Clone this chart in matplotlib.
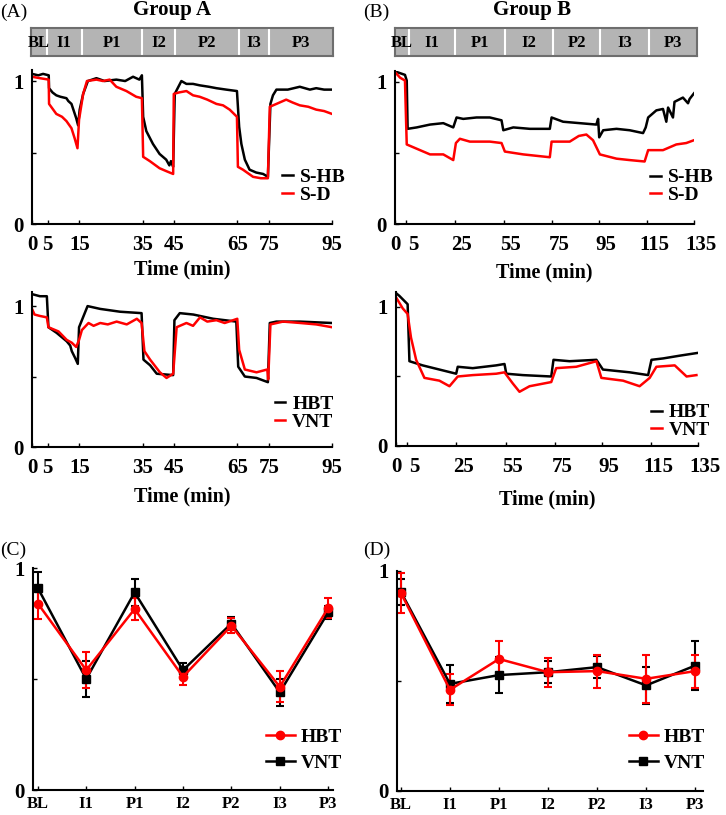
import matplotlib
matplotlib.use("Agg")
import matplotlib.pyplot as plt
from matplotlib.lines import Line2D
from matplotlib.transforms import ScaledTranslation

plt.rcParams["font.family"] = ["Liberation Serif", "DejaVu Serif"]
plt.rcParams["font.weight"] = "bold"

# ---------------- data ----------------
phases = ["BL", "I1", "P1", "I2", "P2", "I3", "P3"]
edges_A = [0, 5, 16, 35, 45.5, 65.5, 75, 95.3]
edges_B = [0, 6.5, 27, 49.5, 71, 92.5, 114.5, 136]

ticks_A = [0, 5, 15, 35, 45, 65, 75, 95]
ticklab_A = ["0", "5", "15", "35", "45", "65", "75", "95"]
ticks_B = [0, 5, 27, 49, 71, 92, 114, 135]
ticklab_B = ["0", "5", "25", "55", "75", "95", "115", "135"]

# Group A, S-HB / S-D
a_shb_t = [0, 2.0, 3.5, 5.3, 5.4, 6.5, 7.7, 9.0, 10.9, 11.5, 12.5, 14.0, 14.6, 15.1, 16.2, 17.7, 20.4,
           23.0, 26.7, 29.5, 32.0, 34.0, 34.8,
           35.2, 36.2, 38.3, 40.4, 42.5, 43.5, 44.0, 44.7, 45.2, 47.3, 48.9, 51.0, 53.1, 56.0, 58.4,
           61.5, 64.9,
           65.6, 66.3, 67.4, 68.9, 71.0, 73.2, 74.7, 75.5, 76.3, 77.4, 81.0, 84.8, 88.0, 90.0, 92.5, 95.0]
a_shb_v = [1.05, 1.04, 1.05, 1.04, 0.95, 0.92, 0.90, 0.89, 0.88, 0.86, 0.84, 0.74, 0.69, 0.80, 0.91,
           1.00, 1.02, 1.00, 1.01, 1.00, 1.03, 1.01, 1.04,
           0.75, 0.65, 0.56, 0.49, 0.45, 0.41, 0.44, 0.40, 0.91, 1.00, 0.98, 0.98, 0.97, 0.96, 0.95,
           0.94, 0.93,
           0.68, 0.56, 0.45, 0.38, 0.36, 0.35, 0.33, 0.84, 0.90, 0.94, 0.94, 0.96, 0.94, 0.95, 0.94, 0.94]
a_sd_t = [0, 2.5, 5.3, 5.4, 7.7, 9.5, 10.9, 12.5, 13.5, 14.4, 14.9, 16.2, 17.4, 20.4, 22.5, 24.6, 26.7,
          29.9, 33.0, 34.8,
          35.2, 37.3, 40.4, 42.5, 44.7, 44.9, 46.5, 48.9, 51.0, 53.1, 55.5, 58.4, 60.5, 62.6, 64.9,
          65.2, 66.8, 70.0, 72.5, 74.7, 75.3, 77.4, 80.5, 82.5, 84.8, 87.5, 90.0, 92.5, 95.0]
a_sd_v = [1.03, 1.02, 1.01, 0.84, 0.77, 0.75, 0.72, 0.67, 0.60, 0.53, 0.73, 0.91, 1.00, 1.01, 1.00,
          1.01, 0.96, 0.93, 0.89, 0.88,
          0.47, 0.44, 0.39, 0.37, 0.35, 0.91, 0.92, 0.93, 0.90, 0.89, 0.87, 0.84, 0.83, 0.80, 0.75,
          0.40, 0.38, 0.33, 0.32, 0.32, 0.82, 0.84, 0.87, 0.85, 0.83, 0.82, 0.80, 0.79, 0.77]

# Group A, HBT / VNT
a_hbt_t = [0, 2.5, 4.7, 5.2, 7.8, 11.0, 12.1, 12.6, 13.7, 14.5, 14.9, 15.8, 17.6, 21.6, 27.9, 34.7,
           35.3, 37.4, 39.5, 44.7, 45.1, 46.8, 51.1, 57.4, 64.7,
           65.3, 67.4, 71.1, 74.7, 75.3, 77.4, 84.7, 95.0]
a_hbt_v = [1.085, 1.07, 1.07, 0.85, 0.81, 0.75, 0.72, 0.68, 0.63, 0.59, 0.85, 0.90, 1.00, 0.98, 0.96, 0.95,
           0.62, 0.58, 0.52, 0.51, 0.90, 0.95, 0.94, 0.91, 0.89,
           0.57, 0.50, 0.49, 0.46, 0.88, 0.89, 0.89, 0.88]
a_vnt_t = [0, 0.8, 2.5, 4.7, 5.2, 8.4, 11.0, 12.6, 14.0, 14.9, 15.8, 17.9, 19.5, 21.6, 24.0, 26.8,
           30.0, 33.2, 34.7,
           35.6, 37.4, 40.5, 42.6, 44.7, 45.8, 48.9, 51.0, 53.2, 55.5, 58.4, 61.0, 63.7, 65.0,
           65.6, 67.4, 71.1, 74.5, 74.8, 75.5, 79.5, 85.0, 90.0, 92.5, 95.0]
a_vnt_v = [0.98, 0.94, 0.93, 0.92, 0.85, 0.82, 0.76, 0.74, 0.71, 0.76, 0.83, 0.88, 0.86, 0.88, 0.87,
           0.89, 0.87, 0.91, 0.88,
           0.68, 0.62, 0.53, 0.49, 0.52, 0.85, 0.88, 0.86, 0.92, 0.89, 0.90, 0.88, 0.90, 0.91,
           0.69, 0.55, 0.53, 0.55, 0.48, 0.87, 0.89, 0.88, 0.87, 0.86, 0.85]

# Group B, S-HB / S-D
b_shb_t = [0, 0.8, 4.5, 5.3, 5.7, 9.8, 15.8, 21.8, 26.3, 27.8, 30.8, 36.8, 42.8, 48.1, 48.9, 53.4,
           60.9, 69.9, 70.7, 75.9, 83.4, 90.9, 91.7, 92.2, 94.0, 100, 106, 112, 113.2, 114.3,
           118, 121, 122.5, 123.3, 125.5, 126.2, 130, 132.3, 133, 135]
b_shb_v = [1.08, 1.07, 1.05, 1.01, 0.67, 0.68, 0.70, 0.71, 0.68, 0.75, 0.74, 0.75, 0.75, 0.73, 0.66, 0.68,
           0.67, 0.67, 0.75, 0.72, 0.71, 0.70, 0.74, 0.61, 0.66, 0.67, 0.66, 0.64, 0.68, 0.75,
           0.80, 0.81, 0.72, 0.82, 0.75, 0.86, 0.89, 0.85, 0.88, 0.92]
b_sd_t = [0, 2.3, 4.5, 5.3, 9.8, 15.8, 21.8, 26.3, 27.5, 29.3, 33.8, 42.8, 48.1, 49.6, 57.9, 69.9,
          70.7, 78.9, 83.0, 86.4, 89.4, 92.5, 100, 106, 112.7, 114.3, 121, 127, 131.5, 135]
b_sd_v = [1.07, 1.03, 1.01, 0.56, 0.53, 0.49, 0.49, 0.45, 0.57, 0.60, 0.58, 0.58, 0.57, 0.51, 0.49, 0.47,
          0.58, 0.58, 0.62, 0.63, 0.59, 0.49, 0.46, 0.45, 0.44, 0.52, 0.52, 0.56, 0.57, 0.59]

# Group B, HBT / VNT
b_hbt_t = [0, 1.5, 5.2, 6.0, 11.9, 19.4, 26.9, 27.6, 34.3, 44.8, 48.5, 49.3, 56.7, 69.4, 70.4,
           77.6, 89.6, 92.5, 104.5, 112.7, 114.2, 119.4, 126.9, 135]
b_hbt_v = [1.10, 1.08, 1.02, 0.61, 0.58, 0.55, 0.52, 0.57, 0.56, 0.58, 0.59, 0.52, 0.51, 0.50, 0.62,
           0.61, 0.62, 0.55, 0.53, 0.51, 0.62, 0.63, 0.65, 0.67]
b_vnt_t = [0, 3.0, 5.2, 6.7, 9.0, 12.7, 19.4, 23.9, 27.6, 34.3, 44.8, 48.5, 52.2, 55.2, 59.7, 69.4,
           71.6, 80.6, 89.6, 91.8, 101.5, 108.9, 113.4, 116.4, 124.6, 129.9, 134.3]
b_vnt_v = [1.07, 0.99, 0.95, 0.78, 0.62, 0.49, 0.47, 0.43, 0.50, 0.51, 0.52, 0.53, 0.45, 0.39, 0.43, 0.46,
           0.56, 0.57, 0.61, 0.49, 0.47, 0.43, 0.49, 0.57, 0.58, 0.50, 0.51]

# phase means +- error
c_hbt = [0.84, 0.54, 0.815, 0.51, 0.74, 0.465, 0.82]
c_hbt_err = [0.07, 0.08, 0.05, 0.035, 0.035, 0.07, 0.045]
c_vnt = [0.91, 0.50, 0.89, 0.54, 0.75, 0.44, 0.80]
c_vnt_err = [0.07, 0.08, 0.06, 0.03, 0.03, 0.06, 0.03]
d_hbt = [0.90, 0.46, 0.60, 0.54, 0.545, 0.51, 0.545]
d_hbt_err = [0.09, 0.07, 0.08, 0.065, 0.075, 0.11, 0.075]
d_vnt = [0.905, 0.487, 0.527, 0.54, 0.563, 0.48, 0.57]
d_vnt_err = [0.06, 0.085, 0.08, 0.05, 0.05, 0.085, 0.11]

# ---------------- figure ----------------
W, H = 726, 815
fig = plt.figure(figsize=(W / 100, H / 100), dpi=100)


def rect(l, r, b, t):
    return [l / W, 1 - b / H, (r - l) / W, (b - t) / H]


FS = 14


def style_axes(ax, ymax):
    for s in ["top", "right"]:
        ax.spines[s].set_visible(False)
    for s in ["left", "bottom"]:
        ax.spines[s].set_linewidth(1.5)
    ax.set_ylim(0, ymax)
    ax.set_yticks([0, 0.5, 1])
    ax.set_yticklabels(["0", "", "1"])
    ax.tick_params(direction="in", length=3, width=1, labelsize=15, pad=6)
    ax.tick_params(axis="x", pad=8)
    for lab in ax.get_xticklabels() + ax.get_yticklabels():
        lab.set_fontweight("bold")


def phase_bar(box, edges):
    bx = fig.add_axes(box)
    for i, p in enumerate(phases):
        bx.axvspan(edges[i], edges[i + 1], color="#b4b4b4", lw=0)
        bx.text((edges[i] + edges[i + 1]) / 2, 0.45, p, ha="center", va="center",
                fontsize=12, fontweight="bold")
    for e in edges[1:-1]:
        bx.axvline(e, color="white", lw=1.5)
    bx.set_xlim(edges[0], edges[-1])
    bx.set_ylim(0, 1)
    bx.set_xticks([])
    bx.set_yticks([])
    for s in bx.spines.values():
        s.set_color("#6e6e6e")
        s.set_linewidth(1.5)


def trace_panel(box, ymax, t1, v1, t2, v2, names, xt, xtl, xmax, leg_xy, labelpad, shift=0):
    ax = fig.add_axes(box)
    ax.plot(t1, v1, color="black", lw=1.8, label=names[0])
    ax.plot(t2, v2, color="red", lw=1.8, label=names[1])
    ax.set_xlim(0, xmax)
    ax.set_xticks(xt)
    ax.set_xticklabels(xtl)
    style_axes(ax, ymax)
    if shift:
        for lab in ax.get_xticklabels()[1:]:
            lab.set_transform(lab.get_transform() + ScaledTranslation(shift / 100, 0, fig.dpi_scale_trans))
    ax.set_xlabel("Time (min)", fontsize=14.5, fontweight="bold", labelpad=labelpad)
    ax.legend(loc="center right", bbox_to_anchor=leg_xy, frameon=False, fontsize=FS,
              handlelength=0.55, handletextpad=0.35, labelspacing=0.0,
              borderpad=0, borderaxespad=0)
    return ax


phase_bar(rect(31, 333, 56, 28), edges_A)
phase_bar(rect(395, 697, 56, 28), edges_B)

trace_panel(rect(32, 332, 224, 69.6), 1.08, a_shb_t, a_shb_v, a_sd_t, a_sd_v,
            ["S-HB", "S-D"], ticks_A, ticklab_A, 95, (1.045, 0.245), 3)
trace_panel(rect(395, 694, 224, 70.6), 1.08, b_shb_t, b_shb_v, b_sd_t, b_sd_v,
            ["S-HB", "S-D"], ticks_B, ticklab_B, 135, (1.065, 0.245), 5, shift=7)
trace_panel(rect(32, 332, 447, 292), 1.10, a_hbt_t, a_hbt_v, a_vnt_t, a_vnt_v,
            ["HBT", "VNT"], ticks_A, ticklab_A, 95, (1.005, 0.22), 6)
trace_panel(rect(396, 698, 446, 291.7), 1.11, b_hbt_t, b_hbt_v, b_vnt_t, b_vnt_v,
            ["HBT", "VNT"], ticks_B, ticklab_B, 135, (1.04, 0.16), 9, shift=7)


def mean_panel(box, xmin, xmax, hbt, hbt_e, vnt, vnt_e, leg_xy):
    ax = fig.add_axes(box)
    x = list(range(len(phases)))
    ax.errorbar(x, vnt, yerr=vnt_e, color="black", lw=1.8, marker="s", ms=5.5,
                capsize=3, elinewidth=1.5, capthick=1.5)
    ax.errorbar(x, hbt, yerr=hbt_e, color="red", lw=1.8, marker="o", ms=6,
                capsize=3, elinewidth=1.5, capthick=1.5)
    ax.set_xlim(xmin, xmax)
    ax.set_xticks(x)
    ax.set_xticklabels(phases)
    style_axes(ax, 1.0)
    ax.tick_params(axis="x", labelsize=12, pad=4)
    for lab in ax.get_xticklabels():
        lab.set_fontweight("bold")
    handles = [Line2D([], [], color="red", lw=1.8, marker="o", ms=6),
               Line2D([], [], color="black", lw=1.8, marker="s", ms=5.5)]
    ax.legend(handles, ["HBT", "VNT"], loc="center right", bbox_to_anchor=leg_xy,
              frameon=False, fontsize=FS, handlelength=1.5, handletextpad=0.3,
              labelspacing=0.45, borderpad=0, borderaxespad=0)
    return ax


mean_panel(rect(33, 333, 790, 568), -0.1, 6.1, c_hbt, c_hbt_err, c_vnt, c_vnt_err, (1.03, 0.18))
mean_panel(rect(397, 703, 791, 571), -0.08, 6.16, d_hbt, d_hbt_err, d_vnt, d_vnt_err, (1.006, 0.186))

# titles and panel letters
fig.text(172 / W, 1 - 10 / H, "Group A", ha="center", va="center", fontsize=15, fontweight="bold")
fig.text(532 / W, 1 - 10 / H, "Group B", ha="center", va="center", fontsize=15, fontweight="bold")
for lab, x, y in [("(A)", 0, 12), ("(B)", 363, 12), ("(C)", 0, 550), ("(D)", 363, 550)]:
    fig.text(x / W, 1 - y / H, lab, ha="left", va="center", fontsize=14, fontweight="normal")

fig.savefig("out.png", dpi=100)
